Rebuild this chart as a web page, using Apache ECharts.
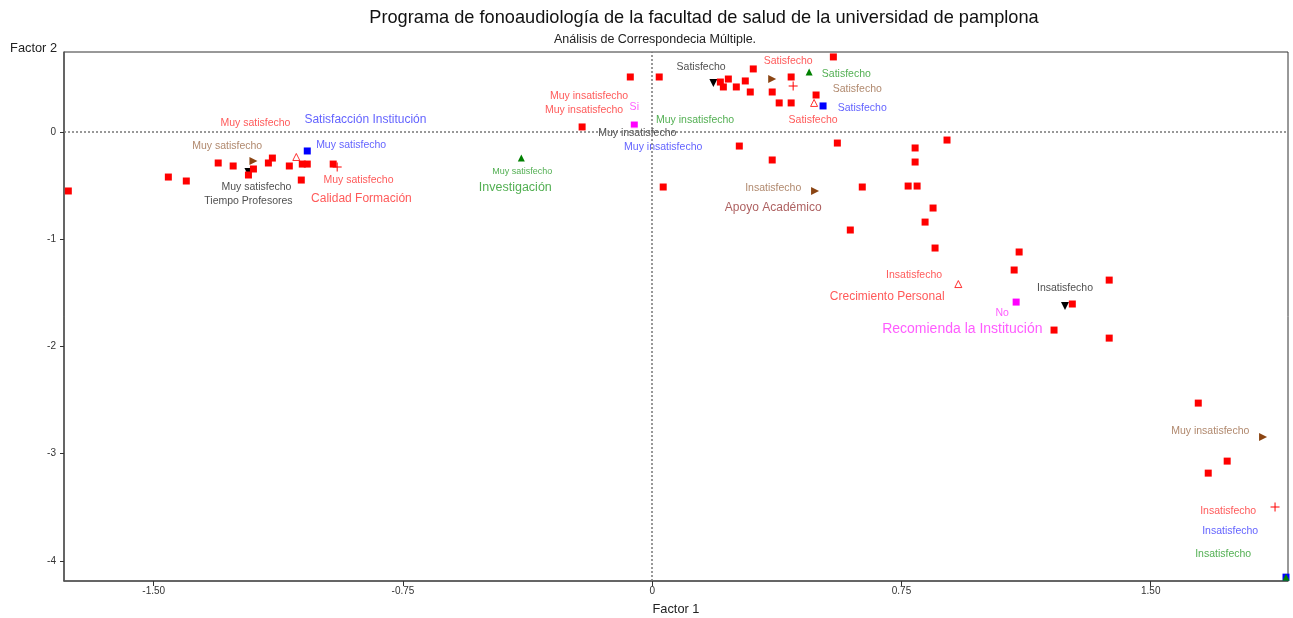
<!DOCTYPE html>
<html>
<head>
<meta charset="utf-8">
<script src="https://cdn.jsdelivr.net/npm/echarts@6/dist/echarts.min.js"></script>
<style>
  html, body { margin: 0; padding: 0; background: #fff; }
</style>
</head>
<body>
<div id="grafico" style="width: 1293px; height: 618px;"></div>
<script>
// datos
const titulo = 'Programa de fonoaudiología de la facultad de salud de la universidad de pamplona'
const subtitulo = 'Análisis de Correspondecia Múltiple.'
const xTicks = [-1.5, -0.75, 0, 0.75, 1.5]
const yTicks = [0, -1, -2, -3, -4]

// individuos (cuadros rojos)
const observaciones = [
  [-1.757, -0.550], [-1.456, -0.420], [-1.402, -0.457], [-1.306, -0.289], [-1.261, -0.317],
  [-1.215, -0.401], [-1.200, -0.345], [-1.155, -0.289], [-1.143, -0.243], [-1.092, -0.317],
  [-1.053, -0.299], [-1.038, -0.299], [-1.056, -0.448], [-0.960, -0.299],
  [-0.211, 0.047], [-0.066, 0.513], [0.021, 0.513], [0.205, 0.466], [0.229, 0.494],
  [0.214, 0.420], [0.253, 0.420], [0.280, 0.476], [0.295, 0.373], [0.304, 0.588],
  [0.361, 0.373], [0.382, 0.271], [0.418, 0.513], [0.418, 0.271], [0.493, 0.345], [0.545, 0.700],
  [0.262, -0.131], [0.361, -0.261], [0.557, -0.103], [0.033, -0.513], [0.791, -0.149],
  [0.791, -0.280], [0.887, -0.075], [0.632, -0.513], [0.770, -0.504], [0.797, -0.504],
  [0.845, -0.709], [0.821, -0.840], [0.596, -0.914], [0.851, -1.082], [1.104, -1.119],
  [1.089, -1.287], [1.375, -1.381], [1.264, -1.604], [1.209, -1.847], [1.375, -1.922],
  [1.643, -2.528], [1.730, -3.069], [1.673, -3.181]
]

// Satisfacción Institución
const satisfaccionPts = [[-1.038, -0.177], [0.514, 0.243], [1.907, -4.151]]
const satisfaccionEtq = [[-0.906, -0.121, 'Muy satisfecho'], [0.632, 0.224, 'Satisfecho'], [0.033, -0.140, 'Muy insatisfecho'], [1.739, -3.722, 'Insatisfecho']]
const satisfaccionTit = [[-0.863, 0.112, 'Satisfacción Institución']]

// Calidad Formación
const calidadPts = [[-0.948, -0.326], [0.424, 0.429], [1.874, -3.498]]
const calidadEtq = [[-0.884, -0.448, 'Muy satisfecho'], [0.409, 0.662, 'Satisfecho'], [-0.190, 0.336, 'Muy insatisfecho'], [1.733, -3.535, 'Insatisfecho']]
const calidadTit = [[-0.875, -0.625, 'Calidad Formación']]

// Crecimiento Personal
const crecimientoPts = [[-1.071, -0.233], [0.487, 0.271], [0.921, -1.418]]
const crecimientoEtq = [[-1.194, 0.084, 'Muy satisfecho'], [0.484, 0.112, 'Satisfecho'], [-0.205, 0.205, 'Muy insatisfecho'], [0.788, -1.334, 'Insatisfecho']]
const crecimientoTit = [[0.707, -1.539, 'Crecimiento Personal']]

// Investigación
const investigacionPts = [[-0.394, -0.243], [0.472, 0.560], [1.907, -4.151]]
const investigacionEtq = [[-0.391, -0.373, 'Muy satisfecho'], [0.584, 0.541, 'Satisfecho'], [0.129, 0.112, 'Muy insatisfecho'], [1.718, -3.937, 'Insatisfecho']]
const investigacionTit = [[-0.412, -0.522, 'Investigación']]

// Apoyo Académico
const apoyoPts = [[-1.200, -0.271], [0.361, 0.494], [0.490, -0.550], [1.838, -2.845]]
const apoyoEtq = [[-1.279, -0.131, 'Muy satisfecho'], [0.617, 0.401, 'Satisfecho'], [0.364, -0.522, 'Insatisfecho'], [1.679, -2.789, 'Muy insatisfecho']]
const apoyoTit = [[0.364, -0.709, 'Apoyo Académico']]

// Tiempo Profesores
const tiempoPts = [[-1.215, -0.373], [0.184, 0.457], [1.242, -1.623]]
const tiempoEtq = [[-1.191, -0.513, 'Muy satisfecho'], [0.147, 0.606, 'Satisfecho'], [-0.045, -0.009, 'Muy insatisfecho'], [1.242, -1.455, 'Insatisfecho']]
const tiempoTit = [[-1.215, -0.644, 'Tiempo Profesores']]

// Recomienda la Institución
const recomiendaPts = [[-0.054, 0.065], [1.095, -1.586]]
const recomiendaEtq = [[-0.054, 0.233, 'Si'], [1.053, -1.688, 'No']]
const recomiendaTit = [[0.933, -1.838, 'Recomienda la Institución']]

const fuente = 'Liberation Sans, Arial, sans-serif'
const tamTitulo = { 'Recomienda la Institución': 14, 'Tiempo Profesores': 10.5, 'Investigación': 12.5 }

let myChart = echarts.init(document.getElementById('grafico'))

function puntos (pts, simbolo, color, extra) {
  return Object.assign({
    type: 'scatter',
    data: pts,
    symbol: simbolo,
    symbolSize: 8,
    silent: true,
    z: 2,
    itemStyle: { color: color, opacity: 1 }
  }, extra || {})
}

function etiquetas (etq, color, tamanos) {
  return {
    type: 'scatter',
    data: etq.map(function (d) {
      let item = { value: d }
      if (tamanos && tamanos[d[2]]) item.label = { fontSize: tamanos[d[2]] }
      return item
    }),
    symbolSize: 1,
    silent: true,
    z: 3,
    itemStyle: { color: 'transparent' },
    label: {
      show: true,
      position: 'inside',
      color: color,
      fontFamily: fuente,
      fontSize: 10.5,
      backgroundColor: '#fff',
      padding: [0, 1],
      formatter: function (p) { return p.value[2] }
    }
  }
}

function titulos (tit, color) {
  let tam = {}
  tit.forEach(function (d) { tam[d[2]] = tamTitulo[d[2]] || 12 })
  return etiquetas(tit, color, tam)
}

const cruz = 'path://M4,0h1v9h-1zM0,4h9v1h-9z'

myChart.setOption({
  animation: false,
  textStyle: { fontFamily: fuente },
  grid: {
    left: 64,
    right: 5,
    top: 52,
    bottom: 37,
    outerBoundsMode: 'none',
    containLabel: false,
    show: true,
    borderColor: '#333',
    borderWidth: 1,
    backgroundColor: 'transparent'
  },
  graphic: [
    { type: 'text', x: 704, y: 18, style: { text: titulo, fontSize: 18.2, fontFamily: fuente, fontWeight: 'normal', fill: '#111', align: 'center', verticalAlign: 'middle' } },
    { type: 'text', x: 655, y: 40, style: { text: subtitulo, fontSize: 12.5, fontFamily: fuente, fontWeight: 'normal', fill: '#222', align: 'center', verticalAlign: 'middle' } },
    { type: 'text', x: 57, y: 48, style: { text: 'Factor 2', fontSize: 12.8, fontFamily: fuente, fontWeight: 'normal', fill: '#222', align: 'right', verticalAlign: 'middle' } }
  ],
  xAxis: {
    type: 'value',
    min: -1.77,
    max: 1.913,
    name: 'Factor 1',
    nameLocation: 'middle',
    nameGap: 22,
    nameTextStyle: { fontSize: 12.8, color: '#222' },
    axisLine: { onZero: false, lineStyle: { color: '#555', width: 1.5 } },
    axisTick: { customValues: xTicks, length: 5, lineStyle: { color: '#333' } },
    axisLabel: {
      customValues: xTicks,
      fontSize: 10,
      color: '#333',
      margin: 5,
      formatter: function (v) { return v === 0 ? '0' : v.toFixed(2) }
    },
    splitLine: { show: false }
  },
  yAxis: {
    type: 'value',
    min: -4.187,
    max: 0.746,
    axisLine: { show: true, onZero: false, lineStyle: { color: '#555', width: 1.5 } },
    axisTick: { show: true, customValues: yTicks, length: 4, lineStyle: { color: '#333' } },
    axisLabel: {
      customValues: yTicks,
      fontSize: 10,
      color: '#333',
      margin: 8,
      formatter: function (v) { return String(v) }
    },
    splitLine: { show: false }
  },
  series: [
    {
      type: 'scatter',
      data: [],
      silent: true,
      z: 1,
      markLine: {
        silent: true,
        symbol: 'none',
        label: { show: false },
        lineStyle: { type: [2, 2], color: '#777', width: 1.5 },
        data: [{ xAxis: 0 }, { yAxis: 0 }]
      }
    },
    puntos(tiempoPts, 'triangle', '#000', { symbolRotate: 180 }),
    puntos(satisfaccionPts, 'rect', '#0000ff', { symbolSize: 7 }),
    puntos(investigacionPts, 'triangle', '#008000', { symbolSize: 7 }),
    puntos(calidadPts, cruz, '#ff0000', { symbolSize: 9 }),
    puntos(crecimientoPts, 'triangle', '#fff', { symbolSize: 7, itemStyle: { color: '#fff', borderColor: '#ff0000', borderWidth: 1 } }),
    puntos(apoyoPts, 'triangle', '#8b4513', { symbolRotate: -90 }),
    puntos(recomiendaPts, 'rect', '#ff00ff', { symbolSize: 7 }),
    puntos(observaciones, 'rect', '#ff0000', { symbolSize: 7, z: 2 }),
    etiquetas(satisfaccionEtq, '#3a3aff'),
    etiquetas(calidadEtq, '#ff3030'),
    etiquetas(crecimientoEtq, '#ff3030'),
    etiquetas(investigacionEtq, '#279b27', { 'Muy satisfecho': 9 }),
    etiquetas(apoyoEtq, '#9c6a48'),
    etiquetas(tiempoEtq, '#222'),
    etiquetas(recomiendaEtq, '#ff33ff'),
    titulos(satisfaccionTit, '#3a3aff'),
    titulos(calidadTit, '#ff3030'),
    titulos(crecimientoTit, '#ff3030'),
    titulos(investigacionTit, '#279b27'),
    titulos(apoyoTit, '#993838'),
    titulos(tiempoTit, '#222'),
    titulos(recomiendaTit, '#ff33ff')
  ]
})
</script>
</body>
</html>
